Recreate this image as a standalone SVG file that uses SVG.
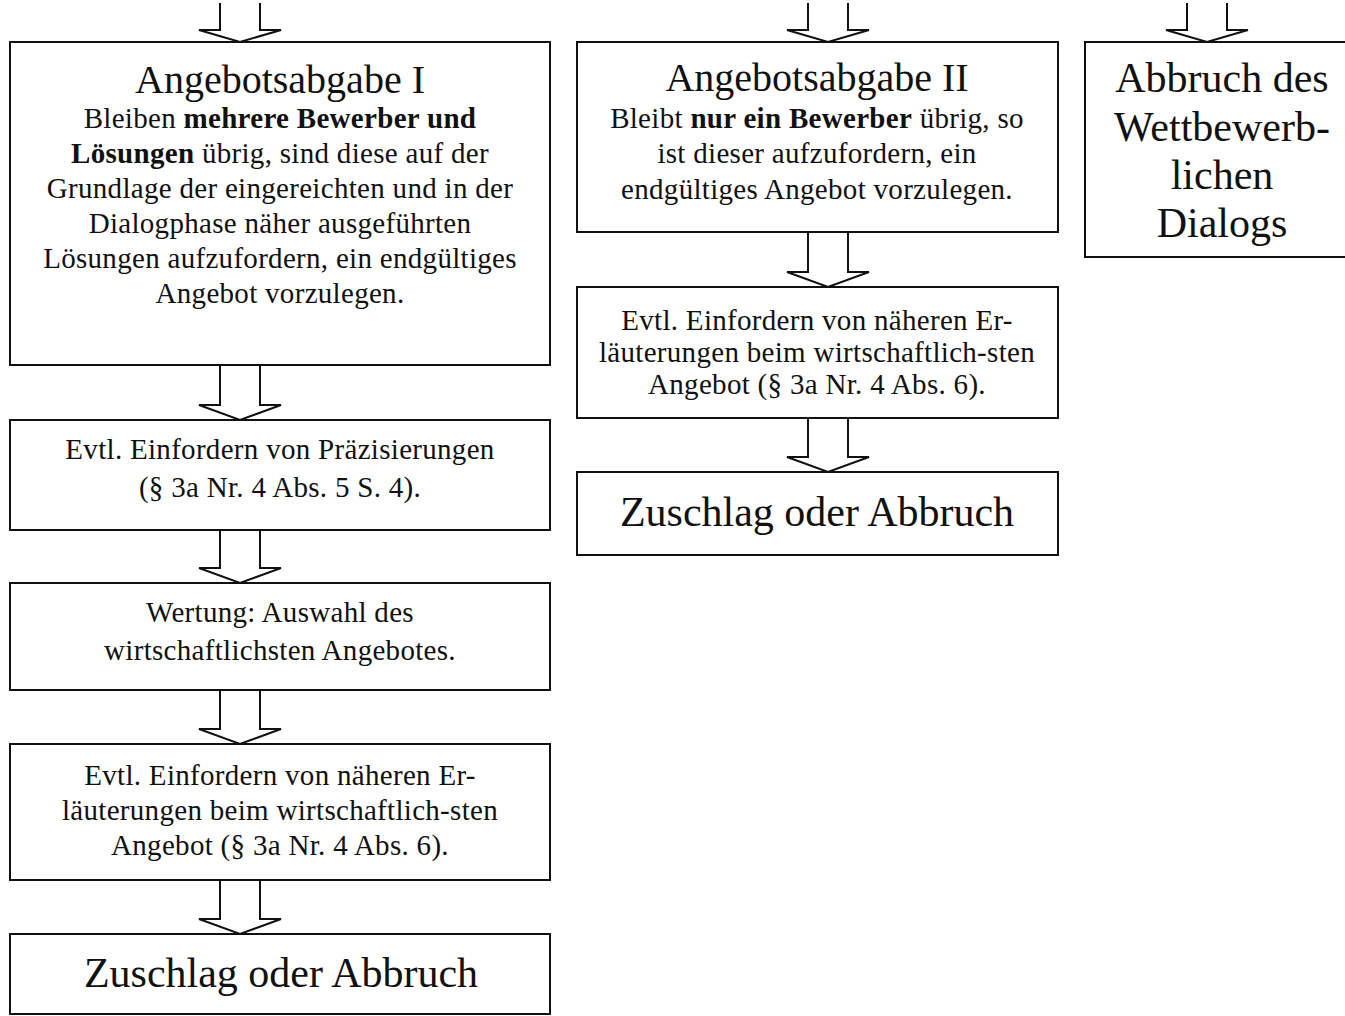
<svg xmlns="http://www.w3.org/2000/svg" width="1345" height="1016" viewBox="0 0 1345 1016">
<style>
.box{fill:#fff;stroke:#111;stroke-width:2}
.arr{fill:#fff;stroke:#111;stroke-width:2;stroke-linejoin:miter}
text{font-family:"Liberation Serif","Times New Roman",serif;fill:#111;text-anchor:middle}
.t{font-size:40px}
.b{font-size:29px;letter-spacing:0.3px}
.z{font-size:42px}
.r{font-size:42px}
.bold{font-weight:bold}
</style>
<rect width="1345" height="1016" fill="#fff"/>
<g id="connectors">
<path class="arr" d="M220,3 V30 H199 L240,42 L281,30 H260 V3"/>
<path class="arr" d="M220,365 V405 H199 L240,420 L281,405 H260 V365"/>
<path class="arr" d="M220,530 V568 H199 L240,583 L281,568 H260 V530"/>
<path class="arr" d="M220,690 V729 H199 L240,744 L281,729 H260 V690"/>
<path class="arr" d="M220,880 V919 H199 L240,934 L281,919 H260 V880"/>
<path class="arr" d="M808,3 V30 H787 L828,42 L869,30 H848 V3"/>
<path class="arr" d="M808,232 V272 H787 L828,287 L869,272 H848 V232"/>
<path class="arr" d="M808,418 V457 H787 L828,472 L869,457 H848 V418"/>
<path class="arr" d="M1187,3 V30 H1166 L1207,42 L1248,30 H1227 V3"/>
</g>
<g id="n1">
<rect class="box" x="10" y="42" width="540" height="323"/>
<text class="t" x="280" y="93">Angebotsabgabe I</text>
<text class="b" x="280" y="128">Bleiben <tspan class="bold">mehrere Bewerber und</tspan></text>
<text class="b" x="280" y="163"><tspan class="bold">Lösungen</tspan> übrig, sind diese auf der</text>
<text class="b" x="280" y="198">Grundlage der eingereichten und in der</text>
<text class="b" x="280" y="233">Dialogphase näher ausgeführten</text>
<text class="b" x="280" y="268">Lösungen aufzufordern, ein endgültiges</text>
<text class="b" x="280" y="303">Angebot vorzulegen.</text>
</g>
<g id="n2">
<rect class="box" x="10" y="420" width="540" height="110"/>
<text class="b" x="280" y="459">Evtl. Einfordern von Präzisierungen</text>
<text class="b" x="280" y="497">(§ 3a Nr. 4 Abs. 5 S. 4).</text>
</g>
<g id="n3">
<rect class="box" x="10" y="583" width="540" height="107"/>
<text class="b" x="280" y="622">Wertung: Auswahl des</text>
<text class="b" x="280" y="660">wirtschaftlichsten Angebotes.</text>
</g>
<g id="n4">
<rect class="box" x="10" y="744" width="540" height="136"/>
<text class="b" x="280" y="785">Evtl. Einfordern von näheren Er-</text>
<text class="b" x="280" y="820">läuterungen beim wirtschaftlich-sten</text>
<text class="b" x="280" y="855">Angebot (§ 3a Nr. 4 Abs. 6).</text>
</g>
<g id="n5">
<rect class="box" x="10" y="934" width="540" height="80"/>
<text class="z" x="281" y="987">Zuschlag oder Abbruch</text>
</g>
<g id="m1">
<rect class="box" x="577" y="42" width="481" height="190"/>
<text class="t" x="817" y="91">Angebotsabgabe II</text>
<text class="b" x="817" y="128">Bleibt <tspan class="bold">nur ein Bewerber</tspan> übrig, so</text>
<text class="b" x="817" y="163">ist dieser aufzufordern, ein</text>
<text class="b" x="817" y="199">endgültiges Angebot vorzulegen.</text>
</g>
<g id="m2">
<rect class="box" x="577" y="287" width="481" height="131"/>
<text class="b" x="817" y="330">Evtl. Einfordern von näheren Er-</text>
<text class="b" x="817" y="362">läuterungen beim wirtschaftlich-sten</text>
<text class="b" x="817" y="394">Angebot (§ 3a Nr. 4 Abs. 6).</text>
</g>
<g id="m3">
<rect class="box" x="577" y="472" width="481" height="83"/>
<text class="z" x="817" y="526">Zuschlag oder Abbruch</text>
</g>
<g id="r1">
<rect class="box" x="1085" y="42" width="270" height="215"/>
<text class="r" x="1222" y="92">Abbruch des</text>
<text class="r" x="1222" y="141">Wettbewerb-</text>
<text class="r" x="1222" y="189">lichen</text>
<text class="r" x="1222" y="237">Dialogs</text>
</g>
</svg>
